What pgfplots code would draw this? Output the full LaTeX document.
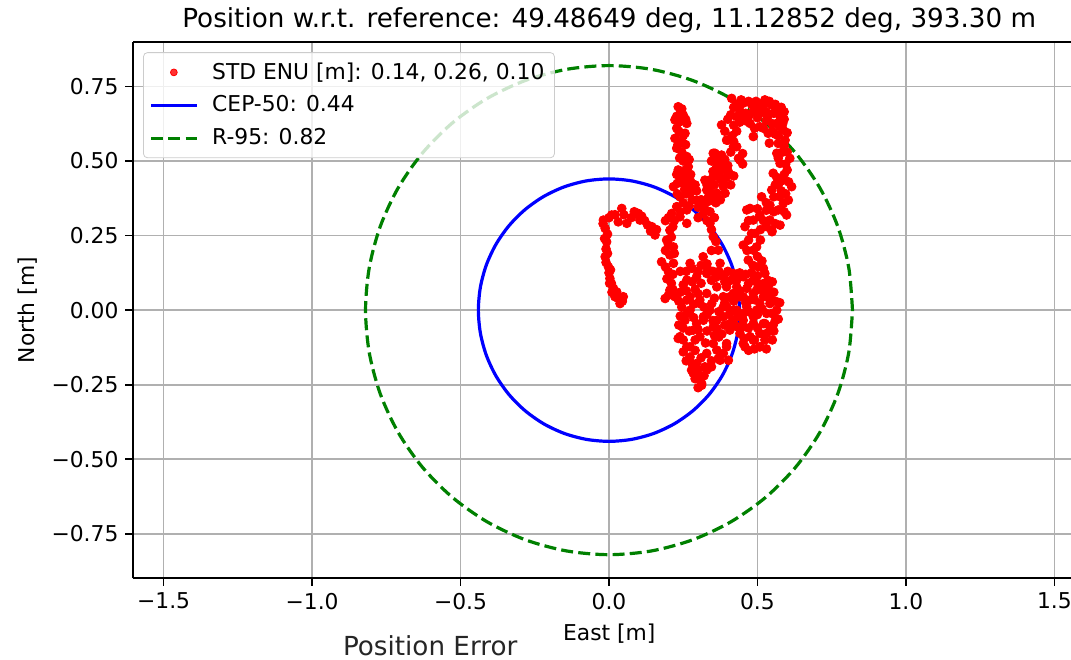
\documentclass[border=0pt]{standalone}
\usepackage{fontspec}
\setmainfont{DejaVu Sans}
\usepackage{pgfplots}
\pgfplotsset{compat=1.18}

\definecolor{mplgreen}{RGB}{0,128,0}
\definecolor{mplgrid}{RGB}{176,176,176}

\pgfplotsset{
    linelegend/.style={legend image code/.code={\draw[##1] (0cm,0cm) -- (0.8cm,0cm);}},
    marklegend/.style={legend image code/.code={\draw[mark repeat=2,mark phase=2,##1]
        plot coordinates {(0cm,0cm) (0.4cm,0cm) (0.8cm,0cm)};}},
}

\pgfplotstableread{
x y
-0.019 0.302
-0.013 0.274
0.009 0.319
0.043 0.341
0.031 0.296
0.060 0.291
0.099 0.324
0.104 0.302
0.144 0.280
0.155 0.252
0.075 0.310
0.120 0.300
0.130 0.285
-0.008 0.229
-0.013 0.179
-0.002 0.145
0.003 0.106
0.015 0.073
0.020 0.045
0.037 0.022
0.048 0.045
0.026 0.061
-0.010 0.205
-0.005 0.255
0.000 0.125
0.008 0.090
-0.020 0.290
0.000 0.310
0.020 0.320
0.050 0.320
0.085 0.330
0.110 0.315
0.140 0.265
0.160 0.270
-0.015 0.240
-0.005 0.190
-0.010 0.160
0.005 0.135
0.002 0.090
0.010 0.060
0.030 0.040
0.045 0.030
0.211 0.324
0.239 0.313
0.262 0.291
0.205 0.268
0.194 0.235
0.217 0.212
0.205 0.185
0.177 0.162
0.217 0.157
0.200 0.129
0.205 0.067
0.189 0.039
0.222 0.045
0.220 0.300
0.190 0.300
0.210 0.245
0.195 0.105
0.210 0.090
0.200 0.310
0.215 0.280
0.200 0.220
0.190 0.200
0.220 0.190
0.190 0.145
0.215 0.120
0.200 0.050
0.215 0.070
0.217 0.414
0.239 0.380
0.273 0.392
0.295 0.369
0.228 0.347
0.262 0.336
0.284 0.414
0.250 0.360
0.300 0.345
0.240 0.330
0.230 0.390
0.260 0.390
0.280 0.370
0.310 0.370
0.270 0.350
0.295 0.400
0.255 0.405
0.233 0.682
0.222 0.638
0.250 0.654
0.262 0.626
0.228 0.610
0.256 0.593
0.222 0.576
0.245 0.565
0.228 0.543
0.239 0.632
0.240 0.660
0.262 0.515
0.267 0.481
0.233 0.470
0.273 0.436
0.250 0.500
0.255 0.455
0.240 0.440
0.290 0.420
0.260 0.420
0.245 0.675
0.228 0.650
0.258 0.640
0.235 0.600
0.250 0.585
0.232 0.555
0.258 0.555
0.245 0.530
0.238 0.510
0.270 0.505
0.258 0.470
0.275 0.455
0.262 0.440
0.228 0.455
0.248 0.425
0.275 0.410
0.230 0.425
0.300 0.310
0.320 0.345
0.335 0.365
0.340 0.330
0.355 0.310
0.360 0.230
0.357 0.526
0.374 0.492
0.402 0.464
0.323 0.436
0.351 0.447
0.385 0.425
0.357 0.380
0.391 0.392
0.312 0.369
0.329 0.403
0.351 0.526
0.379 0.520
0.363 0.481
0.396 0.470
0.340 0.436
0.385 0.414
0.363 0.392
0.340 0.400
0.370 0.455
0.390 0.505
0.345 0.500
0.330 0.420
0.355 0.420
0.375 0.440
0.395 0.445
0.360 0.505
0.380 0.470
0.400 0.485
0.350 0.465
0.335 0.380
0.375 0.370
0.360 0.360
0.410 0.420
0.420 0.450
0.379 0.621
0.400 0.570
0.430 0.548
0.441 0.503
0.396 0.570
0.419 0.548
0.436 0.509
0.390 0.600
0.415 0.585
0.413 0.710
0.452 0.694
0.525 0.705
0.548 0.688
0.576 0.649
0.587 0.604
0.593 0.570
0.570 0.559
0.486 0.582
0.536 0.593
0.508 0.615
0.475 0.626
0.430 0.649
0.440 0.670
0.497 0.671
0.565 0.626
0.420 0.680
0.460 0.660
0.480 0.690
0.510 0.690
0.530 0.665
0.555 0.660
0.580 0.680
0.500 0.645
0.530 0.635
0.550 0.625
0.575 0.615
0.460 0.635
0.560 0.590
0.540 0.560
0.410 0.655
0.400 0.640
0.430 0.690
0.445 0.705
0.470 0.700
0.495 0.700
0.505 0.670
0.520 0.685
0.540 0.700
0.560 0.690
0.565 0.665
0.590 0.665
0.590 0.640
0.585 0.625
0.600 0.595
0.570 0.585
0.550 0.600
0.520 0.610
0.490 0.610
0.470 0.650
0.450 0.650
0.440 0.630
0.420 0.620
0.430 0.600
0.420 0.565
0.450 0.525
0.450 0.490
0.410 0.530
0.510 0.660
0.535 0.650
0.485 0.665
0.565 0.526
0.576 0.492
0.609 0.509
0.553 0.459
0.587 0.436
0.615 0.414
0.548 0.403
0.576 0.380
0.604 0.369
0.514 0.380
0.542 0.352
0.570 0.336
0.475 0.341
0.508 0.319
0.598 0.319
0.587 0.358
0.576 0.285
0.548 0.268
0.508 0.313
0.458 0.280
0.492 0.257
0.452 0.218
0.486 0.201
0.469 0.168
0.503 0.145
0.525 0.123
0.536 0.078
0.542 0.034
0.548 -0.011
0.525 -0.045
0.464 0.336
0.486 0.302
0.480 0.257
0.497 0.212
0.542 0.302
0.549 0.263
0.542 0.056
0.553 -0.011
0.542 -0.056
0.508 -0.123
0.486 -0.101
0.452 -0.112
0.590 0.550
0.600 0.470
0.560 0.420
0.530 0.335
0.580 0.400
0.590 0.330
0.585 0.530
0.600 0.530
0.570 0.510
0.595 0.490
0.590 0.455
0.565 0.445
0.605 0.430
0.570 0.420
0.595 0.390
0.555 0.380
0.530 0.360
0.555 0.330
0.500 0.340
0.520 0.300
0.560 0.290
0.530 0.280
0.510 0.270
0.470 0.300
0.470 0.235
0.510 0.235
0.465 0.200
0.500 0.180
0.485 0.150
0.515 0.165
0.520 0.140
0.535 0.100
0.550 0.095
0.555 0.060
0.560 0.030
0.565 0.000
0.570 -0.030
0.555 -0.070
0.550 -0.100
0.525 -0.100
0.530 -0.130
0.560 -0.035
0.575 0.025
0.318 0.324
0.340 0.291
0.351 0.246
0.368 0.201
0.374 0.157
0.317 0.179
0.329 0.123
0.330 0.300
0.345 0.270
0.345 0.200
0.330 0.155
0.273 0.157
0.262 0.101
0.295 0.112
0.329 0.145
0.273 0.045
0.306 0.034
0.262 -0.011
0.295 -0.045
0.340 0.000
0.363 0.078
0.262 0.034
0.273 0.000
0.256 -0.034
0.233 -0.095
0.262 -0.123
0.273 -0.157
0.278 -0.201
0.306 -0.224
0.312 -0.252
0.295 -0.179
0.323 -0.190
0.284 -0.067
0.306 -0.089
0.329 -0.145
0.351 -0.112
0.368 -0.162
0.402 -0.168
0.396 -0.112
0.363 -0.061
0.318 -0.022
0.306 0.022
0.346 0.022
0.239 -0.089
0.273 -0.123
0.312 -0.246
0.284 -0.212
0.329 -0.201
0.363 -0.134
0.396 -0.123
0.374 -0.168
0.329 0.056
0.318 -0.034
0.250 -0.060
0.290 0.070
0.300 0.130
0.245 0.010
0.240 0.130
0.260 0.130
0.280 0.140
0.310 0.150
0.250 0.085
0.280 0.095
0.310 0.090
0.345 0.100
0.350 0.130
0.240 0.060
0.260 0.065
0.300 0.055
0.235 0.030
0.285 0.020
0.320 0.010
0.240 -0.020
0.285 -0.025
0.330 -0.015
0.235 -0.050
0.270 -0.070
0.300 -0.065
0.330 -0.070
0.250 -0.100
0.290 -0.100
0.325 -0.110
0.250 -0.140
0.290 -0.135
0.310 -0.160
0.345 -0.170
0.260 -0.170
0.280 -0.180
0.300 -0.200
0.345 -0.190
0.290 -0.230
0.300 -0.260
0.320 -0.220
0.355 -0.085
0.350 -0.035
0.355 0.040
0.360 0.110
0.385 0.112
0.419 0.123
0.452 0.112
0.486 0.101
0.520 0.089
0.396 0.078
0.430 0.078
0.464 0.073
0.497 0.067
0.407 0.045
0.441 0.045
0.475 0.034
0.508 0.022
0.385 0.011
0.419 0.000
0.452 -0.011
0.486 -0.022
0.363 -0.034
0.407 -0.045
0.452 -0.056
0.351 -0.056
0.385 0.045
0.419 0.056
0.452 0.045
0.486 0.056
0.520 0.045
0.542 0.022
0.396 0.011
0.430 0.000
0.464 0.011
0.497 0.000
0.531 -0.011
0.385 -0.022
0.419 -0.034
0.452 -0.034
0.486 -0.045
0.520 -0.045
0.553 -0.050
0.407 -0.067
0.441 -0.078
0.475 -0.089
0.508 -0.078
0.458 -0.123
0.508 -0.123
0.531 -0.078
0.430 0.100
0.470 0.090
0.500 0.115
0.400 0.130
0.370 0.130
0.390 0.095
0.410 0.100
0.440 0.125
0.460 0.120
0.480 0.125
0.500 0.090
0.440 0.065
0.420 0.030
0.460 0.025
0.490 0.035
0.520 0.065
0.390 0.025
0.370 -0.005
0.405 -0.015
0.435 -0.020
0.470 -0.005
0.500 -0.015
0.515 0.005
0.390 -0.050
0.430 -0.055
0.470 -0.060
0.500 -0.060
0.455 -0.095
0.490 -0.100
0.370 -0.090
0.380 -0.080
0.385 -0.145
0.470 -0.135
0.490 -0.130
}\enutable

\begin{document}
\begin{tikzpicture}
\begin{axis}[
    scale only axis,
    width=468.75pt, height=268pt,
    xmin=-1.603, xmax=1.556,
    ymin=-0.899, ymax=0.899,
    clip mode=individual,
    axis x line*=bottom, axis y line*=left,
    axis line style={-, black, line width=0.85pt},
    tick align=outside,
    major tick length=3.8pt,
    tick style={black, line width=0.85pt},
    xtick={-1.5,-1,-0.5,0,0.5,1,1.5},
    xticklabels={−1.5,−1.0,−0.5,0.0,0.5,1.0,1.5},
    ytick={-0.75,-0.5,-0.25,0,0.25,0.5,0.75},
    yticklabels={−0.75,−0.50,−0.25,0.00,0.25,0.50,0.75},
    ticklabel style={font=\fontsize{10.9}{13}\selectfont},
    grid=major,
    major grid style={color=mplgrid, line width=0.85pt},
    title={Position w.r.t. reference: 49.48649 deg, 11.12852 deg, 393.30 m},
    every axis title/.style={at={(axis description cs:0.5077,1)}, anchor=center,
        yshift=11pt, font=\fontsize{13.1}{15}\selectfont},
    xlabel={East [m]},
    ylabel={North [m]},
    every axis x label/.style={at={(axis description cs:0.5077,0)}, anchor=center,
        yshift=-27.5pt, font=\fontsize{10.9}{13}\selectfont},
    every axis y label/.style={at={(axis description cs:-0.1120,0.5)}, anchor=center,
        rotate=90, font=\fontsize{10.9}{13}\selectfont},
    legend cell align=left,
    legend style={at={(axis description cs:0.0107,0.981)}, anchor=north west,
        draw=black!20, rounded corners=2pt, fill=white, fill opacity=0.8,
        text opacity=1, font=\fontsize{10.9}{13}\selectfont,
        inner xsep=3pt, inner ysep=3pt, row sep=2.8pt, column sep=5pt,
        nodes={inner sep=2pt}},
]
\addlegendimage{only marks, mark=*, mark size=1.7pt, red, mark options={draw=red, fill=red}, marklegend}
\addlegendentry{STD ENU [m]: 0.14, 0.26, 0.10}
\addlegendimage{blue, line width=1.6pt, linelegend}
\addlegendentry{CEP-50: 0.44}
\addlegendimage{mplgreen, line width=1.6pt, dash pattern=on 6pt off 2.6pt, linelegend}
\addlegendentry{R-95: 0.82}

% CEP-50 circle, r = 0.44
\addplot[blue, line width=1.6pt, smooth, forget plot] coordinates {
(0.44,0) (0.4333,0.0764) (0.4135,0.1505) (0.3811,0.22) (0.3371,0.2828) (0.2828,0.3371)
(0.22,0.3811) (0.1505,0.4135) (0.0764,0.4333) (0,0.44) (-0.0764,0.4333) (-0.1505,0.4135)
(-0.22,0.3811) (-0.2828,0.3371) (-0.3371,0.2828) (-0.3811,0.22) (-0.4135,0.1505) (-0.4333,0.0764)
(-0.44,0) (-0.4333,-0.0764) (-0.4135,-0.1505) (-0.3811,-0.22) (-0.3371,-0.2828) (-0.2828,-0.3371)
(-0.22,-0.3811) (-0.1505,-0.4135) (-0.0764,-0.4333) (0,-0.44) (0.0764,-0.4333) (0.1505,-0.4135)
(0.22,-0.3811) (0.2828,-0.3371) (0.3371,-0.2828) (0.3811,-0.22) (0.4135,-0.1505) (0.4333,-0.0764)
(0.44,0)};
% R-95 circle, r = 0.82
\addplot[mplgreen, line width=1.6pt, dash pattern=on 6pt off 2.6pt, smooth, forget plot] coordinates {
(0.82,0) (0.8075,0.1424) (0.7705,0.2805) (0.7101,0.41) (0.6281,0.5271) (0.5271,0.6281)
(0.41,0.7101) (0.2805,0.7705) (0.1424,0.8075) (0,0.82) (-0.1424,0.8075) (-0.2805,0.7705)
(-0.41,0.7101) (-0.5271,0.6281) (-0.6281,0.5271) (-0.7101,0.41) (-0.7705,0.2805) (-0.8075,0.1424)
(-0.82,0) (-0.8075,-0.1424) (-0.7705,-0.2805) (-0.7101,-0.41) (-0.6281,-0.5271) (-0.5271,-0.6281)
(-0.41,-0.7101) (-0.2805,-0.7705) (-0.1424,-0.8075) (0,-0.82) (0.1424,-0.8075) (0.2805,-0.7705)
(0.41,-0.7101) (0.5271,-0.6281) (0.6281,-0.5271) (0.7101,-0.41) (0.7705,-0.2805) (0.8075,-0.1424)
(0.82,0)};
% position samples
\addplot[only marks, mark=*, mark size=2.2pt, red, mark options={draw=red, fill=red}, forget plot]
    table[x=x, y=y] {\enutable};

\draw[black, line width=0.85pt] (rel axis cs:0,1) -- (rel axis cs:1,1);
\node[font=\fontsize{13.1}{15}\selectfont, text=black!85] at (axis description cs:0.3168,0)
    [yshift=-33.5pt] {Position Error};
\end{axis}
\pgfresetboundingbox
\path[use as bounding box] ([xshift=-66.5pt,yshift=-40.5pt]current axis.south west)
    rectangle ([yshift=21pt]current axis.north east);
\end{tikzpicture}
\end{document}
